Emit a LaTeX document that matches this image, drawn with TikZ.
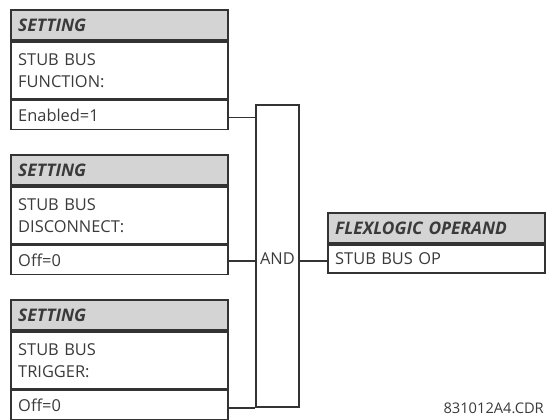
\documentclass[tikz,border=0pt]{standalone}
\usepackage{fontspec}
\setmainfont{Open Sans}
\definecolor{lc}{HTML}{333333}
\definecolor{tc}{HTML}{3A3A3A}
\definecolor{hf}{HTML}{D4D4D4}
\begin{document}
\begin{tikzpicture}[x=0.75pt,y=-0.75pt,
  every node/.style={text=tc},
  box/.style={draw=lc, line width=1.35pt, anchor=north west, inner xsep=5.5pt, inner ysep=0pt,
     text width=151.75pt, align=left, font=\fontsize{12.3}{16.5}\selectfont},
  hdr/.style={box, fill=hf, minimum height=22.5pt, font=\fontsize{13}{15.5}\selectfont\bfseries\itshape},
  bodyb/.style={box, minimum height=42.75pt},
  rowb/.style={box, minimum height=21.75pt},
  gatebox/.style={draw=lc, line width=1.35pt, anchor=north west, minimum width=32.25pt, minimum height=226.5pt, inner sep=0pt},
  wire/.style={draw=lc, line width=1.35pt}
]
\useasboundingbox (0,0) rectangle (546,419);
% block 1
\node[hdr] (h1) at (10,9) {SETTING};
\node[bodyb] (b1) at (h1.south west) {STUB BUS\\FUNCTION:};
\node[rowb] (r1) at (b1.south west) {Enabled=1};
% block 2
\node[hdr] (h2) at (10,154) {SETTING};
\node[bodyb] (b2) at (h2.south west) {STUB BUS\\DISCONNECT:};
\node[rowb] (r2) at (b2.south west) {Off=0};
% block 3
\node[hdr] (h3) at (10,299) {SETTING};
\node[bodyb] (b3) at (h3.south west) {STUB BUS\\TRIGGER:};
\node[rowb] (r3) at (b3.south west) {Off=0};
% gate
\node[gatebox] (g) at (255,104) {};
\node[font=\fontsize{12.3}{15.5}\selectfont, inner sep=0pt] (gl) at ([yshift=-2pt]g.center) {AND};
% output
\node[hdr] (oh) at (327,212) {FLEXLOGIC OPERAND};
\node[rowb, minimum height=21pt] (or) at (oh.south west) {STUB BUS OP};
% label
\node[anchor=base east, inner sep=0pt, font=\fontsize{11}{12}\selectfont] (lab) at (544,413) {831012A4.CDR};
% wires
\draw[wire] ([yshift=-1.9pt]r1.east) -- ([yshift=-1.9pt]r1.east -| g.west);
\draw[wire] ([yshift=-0.9pt]r2.east) -- ([yshift=-0.9pt]r2.east -| g.west);
\draw[wire] (r3.east |- g.south west) -- (g.south west);
\draw[wire] ([yshift=-1.5pt]g.east |- or.west) -- ([yshift=-1.5pt]or.west);
\end{tikzpicture}
\end{document}
